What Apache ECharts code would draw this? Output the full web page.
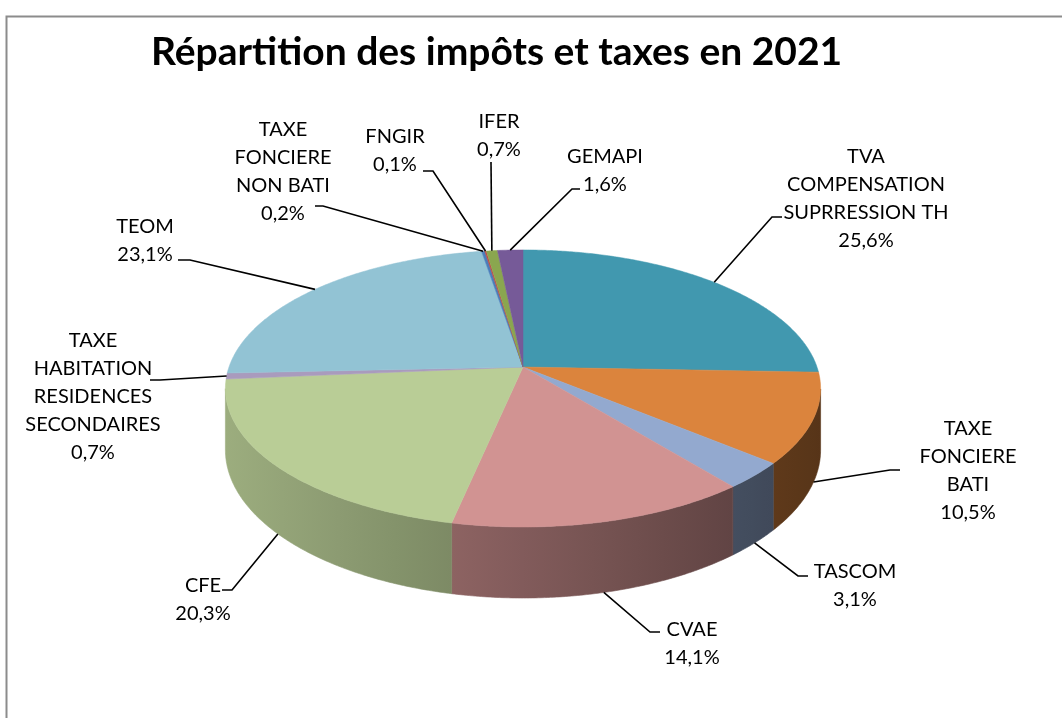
<!DOCTYPE html>
<html lang="fr">
<head>
    <meta charset="UTF-8">
    <title>Répartition des impôts et taxes en 2021</title>
    <style>
        html, body { margin: 0; padding: 0; background: #fff; }
        #chart { width: 1062px; height: 718px; }
    </style>
</head>
<body>
    <div id="chart"></div>
    <script src="https://cdn.jsdelivr.net/npm/echarts@6/dist/echarts.min.js"></script>
    <script>
        // catégories (libellés tels qu'affichés, avec retours à la ligne)
        const categories = [
            'TVA\nCOMPENSATION\nSUPRRESSION TH',
            'TAXE\nFONCIERE\nBATI',
            'TASCOM',
            'CVAE',
            'CFE',
            'TAXE\nHABITATION\nRESIDENCES\nSECONDAIRES',
            'TEOM',
            'TAXE\nFONCIERE\nNON BATI',
            'FNGIR',
            'IFER',
            'GEMAPI'
        ];
        // parts en %
        const shares = [25.6, 10.5, 3.1, 14.1, 20.3, 0.7, 23.1, 0.2, 0.1, 0.7, 1.6];

        const colors = ['#4198AF', '#DB843D', '#93A9CF', '#D19392', '#B9CD96', '#A99BBD',
            '#92C3D4', '#4A7EBB', '#BE4B48', '#8AA64F', '#765A98'];

        // position des étiquettes par rapport au centre du camembert : [texteX, texteY, coudeX, coudeY, finX]
        const labelLayout = [
            [343, -168, 249, -150, 259],
            [445, 104, 367, 103, 377],
            [332, 219, 275, 209, 285],
            [169, 277, 127, 265, 137],
            [-320, 233, -291, 223, -301],
            [-430, 30, -363, 13, -373],
            [-378, -126, -333, -107, -345],
            [-240, -195, -200, -161, -208],
            [-128, -216, -90, -196, -100],
            [-24, -231, -32, -205, -32],
            [82, -196, 49, -178, 57]
        ];

        // géométrie du camembert 3D (projection en perspective)
        const CX = 523, CY = 367, RX = 294, RY = 135.2, PERSP = 0.155, DEPTH = 60;

        const cum = [0];
        shares.forEach(v => cum.push(cum[cum.length - 1] + v));
        const total = cum[cum.length - 1];

        function proj(th) {
            const u = Math.sin(th), v = Math.cos(th), w = 1 + PERSP * v;
            return { x: CX + RX * u / w, y: CY - RY * v / w, h: DEPTH / w, u: u, v: v };
        }

        function shade(hex, f) {
            const n = parseInt(hex.slice(1), 16);
            const r = Math.round(((n >> 16) & 255) * f);
            const g = Math.round(((n >> 8) & 255) * f);
            const b = Math.round((n & 255) * f);
            return 'rgb(' + r + ',' + g + ',' + b + ')';
        }

        // luminosité de la face latérale selon la position horizontale
        function light(x) {
            const u = (x - CX) / RX;
            return Math.max(0.3, Math.min(0.9, 0.62 - 0.22 * u));
        }

        function renderSlice(params, api) {
            const i = params.dataIndex;
            const a0 = cum[i] / total * Math.PI * 2;
            const a1 = cum[i + 1] / total * Math.PI * 2;
            const steps = Math.max(2, Math.ceil((a1 - a0) / (Math.PI / 360)));
            const pts = [];
            for (let s = 0; s <= steps; s++) pts.push(proj(a0 + (a1 - a0) * s / steps));

            const children = [];
            // face latérale (seulement la partie visible)
            const vis = pts.filter(p => p.v < -PERSP);
            if (vis.length > 1) {
                const upper = vis.map(p => [p.x, p.y]);
                const lower = vis.slice().reverse().map(p => [p.x, p.y + p.h]);
                const xs = vis.map(p => p.x);
                const xa = Math.min.apply(null, xs), xb = Math.max.apply(null, xs);
                const stops = [];
                for (let s = 0; s <= 4; s++) {
                    const x = xa + (xb - xa) * s / 4;
                    stops.push({ offset: s / 4, color: shade(colors[i], light(x)) });
                }
                const grad = new echarts.graphic.LinearGradient(xa, 0, xb + 0.01, 0, stops, true);
                children.push({
                    type: 'polygon',
                    z2: 100,
                    shape: { points: upper.concat(lower) },
                    style: { fill: grad, stroke: grad, lineWidth: 0.6 }
                });
            }
            // dessus
            const top = [[CX, CY]].concat(pts.map(p => [p.x, p.y]));
            children.push({
                type: 'polygon',
                z2: 1000,
                shape: { points: top },
                style: { fill: colors[i], stroke: colors[i], lineWidth: 0.5 }
            });

            // étiquette + ligne de rappel
            const m = proj((a0 + a1) / 2);
            const anchor = m.v < -0.2 ? [m.x, m.y + m.h] : [m.x, m.y];
            const L = labelLayout[i];
            children.push({
                type: 'polyline',
                z2: 3000,
                shape: { points: [anchor, [CX + L[2], CY + L[3]], [CX + L[4], CY + L[3]]] },
                style: { stroke: '#000', lineWidth: 1.6, fill: null }
            });
            children.push({
                type: 'text',
                z2: 3000,
                style: {
                    text: categories[i] + '\n' + shares[i].toFixed(1).replace('.', ',') + '%',
                    x: CX + L[0],
                    y: CY + L[1],
                    align: 'center',
                    verticalAlign: 'middle',
                    fill: '#000',
                    font: '20px Lato',
                    lineHeight: 28
                }
            });
            return { type: 'group', children: children };
        }

        const chart = echarts.init(document.getElementById('chart'));
        chart.setOption({
            animation: false,
            backgroundColor: '#fff',
            title: {
                text: 'Répartition des impôts et taxes en 2021',
                left: 146,
                top: 28,
                textStyle: { fontFamily: 'Lato', fontWeight: 'bold', fontSize: 39, color: '#000' }
            },
            graphic: [{
                type: 'rect',
                left: 4, top: 14,
                shape: { width: 1100, height: 800 },
                style: { fill: null, stroke: '#8c8c8c', lineWidth: 2 },
                silent: true
            }],
            series: [{
                type: 'custom',
                coordinateSystem: 'none',
                renderItem: renderSlice,
                data: shares.map((v, i) => ({ name: categories[i], value: v }))
            }]
        });
    </script>
</body>
</html>
